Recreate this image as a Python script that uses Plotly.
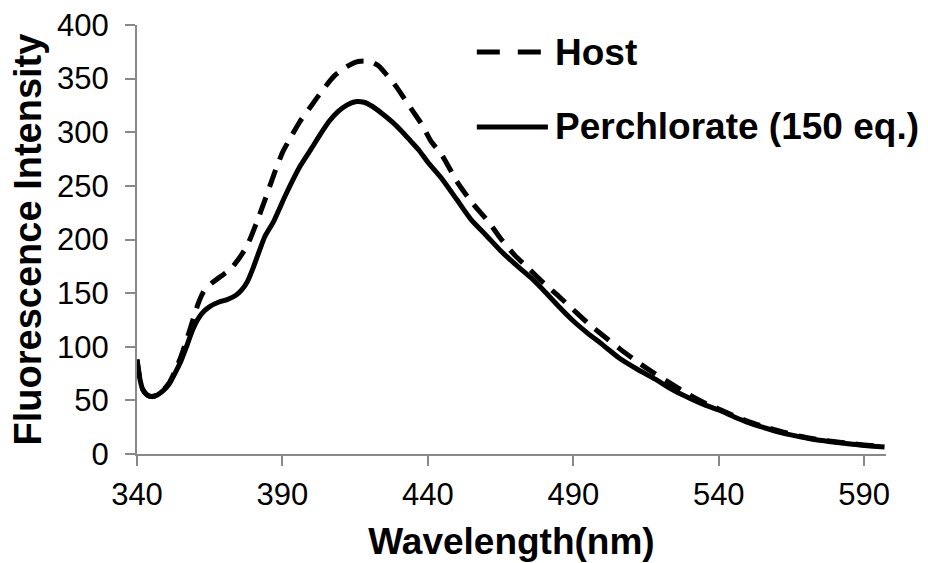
import plotly.graph_objects as go

# ---- data ----
wl_perchlorate = [340, 341, 342, 343.5, 345, 347, 349, 351, 353, 355, 357, 359, 361, 363, 365,
                  368, 371, 374, 376, 378, 380, 382, 384, 387, 391, 396, 400, 403, 406, 409,
                  412, 415, 418, 421, 424, 428, 431, 434, 437, 440, 445, 450, 455, 460, 465,
                  470, 476, 480, 485, 490, 495, 500, 506, 512, 518, 524, 530, 535, 540, 545,
                  550, 555, 562, 568, 574, 580, 586, 592, 597]
int_perchlorate = [88, 70, 60, 55, 53.5, 55, 59, 65, 75, 86, 100, 115, 126, 133, 137.5,
                   141.5, 144, 148, 153, 161, 174, 189, 203, 217, 241, 268, 285, 298, 310, 319,
                   325, 328.5, 328, 324, 318, 309, 301, 292, 283, 272, 256, 237, 218, 204, 189.5,
                   177, 163, 152, 137.5, 124, 112.5, 102, 89, 79, 70, 60, 52, 46, 41, 35,
                   29.5, 25, 19.5, 16, 13, 11, 9, 7.5, 6.5]

wl_host = [340, 341, 342, 343.5, 345, 347, 349, 351, 353, 355, 357, 359, 361, 363, 366,
           369, 372, 375, 378, 381, 384, 387, 390, 393, 396, 400, 404, 408, 412, 416,
           420, 423, 426, 429, 432, 435, 438, 441, 445, 450, 455, 461, 465, 470, 475,
           480, 485, 490, 495, 500, 506, 512, 518, 524, 530, 536, 540, 545, 550, 555,
           562, 568, 574, 580, 586, 592, 597]
int_host = [88, 70, 60, 55, 53.5, 55, 59.5, 66, 77, 90, 106, 123, 140, 152, 160,
            166, 172, 182, 195, 215, 237, 260, 281, 296, 310, 325, 340, 353, 361, 366,
            366, 362, 353, 343, 331, 319, 307, 292, 278, 254, 235, 216, 201, 185, 172,
            159, 147, 134.5, 122, 111, 98, 86, 75, 65, 55, 46.5, 42, 36, 30.5, 26,
            20.5, 16.5, 13.5, 11.5, 9.5, 8, 7]

x_ticks = [340, 390, 440, 490, 540, 590]
y_ticks = [0, 50, 100, 150, 200, 250, 300, 350, 400]

series_names = ["Host", "Perchlorate (150 eq.)"]

FONT = "Arial, 'Liberation Sans', sans-serif"
AXIS_COLOR = "#898989"

fig = go.Figure()
fig.add_trace(go.Scatter(x=wl_perchlorate, y=int_perchlorate, mode="lines",
                         name=series_names[1],
                         line=dict(color="black", width=5, shape="spline", smoothing=0.6)))
fig.add_trace(go.Scatter(x=wl_host, y=int_host, mode="lines", name=series_names[0],
                         line=dict(color="black", width=5, dash="18px,11px",
                                   shape="spline", smoothing=0.6)))

# ---- legend drawn in paper coordinates ----
fig.add_shape(type="line", xref="paper", yref="paper", x0=0.4537, x1=0.5405, y0=0.937, y1=0.937,
              line=dict(color="black", width=5, dash="23px,18px"))
fig.add_shape(type="line", xref="paper", yref="paper", x0=0.4537, x1=0.5486, y0=0.7624, y1=0.7624,
              line=dict(color="black", width=5))
fig.add_annotation(xref="paper", yref="paper", x=0.555, y=0.937, xanchor="left", yanchor="middle",
                   text="<b>%s</b>" % series_names[0], showarrow=False,
                   font=dict(family=FONT, size=37, color="black"))
fig.add_annotation(xref="paper", yref="paper", x=0.555, y=0.7624, xanchor="left", yanchor="middle",
                   text="<b>%s</b>" % series_names[1], showarrow=False,
                   font=dict(family=FONT, size=37, color="black"))

fig.update_layout(
    width=928, height=563,
    margin=dict(l=137, r=42, t=25, b=109),
    paper_bgcolor="white", plot_bgcolor="white",
    showlegend=False,
    font=dict(family=FONT, color="black"),
)
fig.update_xaxes(
    range=[340, 597.5], tickmode="array", tickvals=x_ticks,
    ticktext=[str(v) for v in x_ticks], automargin=False,
    showgrid=False, zeroline=False, showline=True, linecolor=AXIS_COLOR, linewidth=2,
    ticks="outside", ticklen=10, tickwidth=2, tickcolor=AXIS_COLOR,
    tickfont=dict(family=FONT, size=31, color="black"), ticklabelstandoff=2,
    title=dict(text="<b>Wavelength(nm)</b>", font=dict(family=FONT, size=37, color="black"),
               standoff=17),
)
fig.update_yaxes(
    range=[0, 400], tickmode="array", tickvals=y_ticks,
    ticktext=[str(v) for v in y_ticks], automargin=False,
    showgrid=False, zeroline=False, showline=True, linecolor=AXIS_COLOR, linewidth=2,
    ticks="outside", ticklen=10, tickwidth=2, tickcolor=AXIS_COLOR,
    tickfont=dict(family=FONT, size=31, color="black"), ticklabelstandoff=10,
    title=dict(text="<b>Fluorescence Intensity</b>", font=dict(family=FONT, size=38, color="black"),
               standoff=4),
)

fig.write_html("out.html")
